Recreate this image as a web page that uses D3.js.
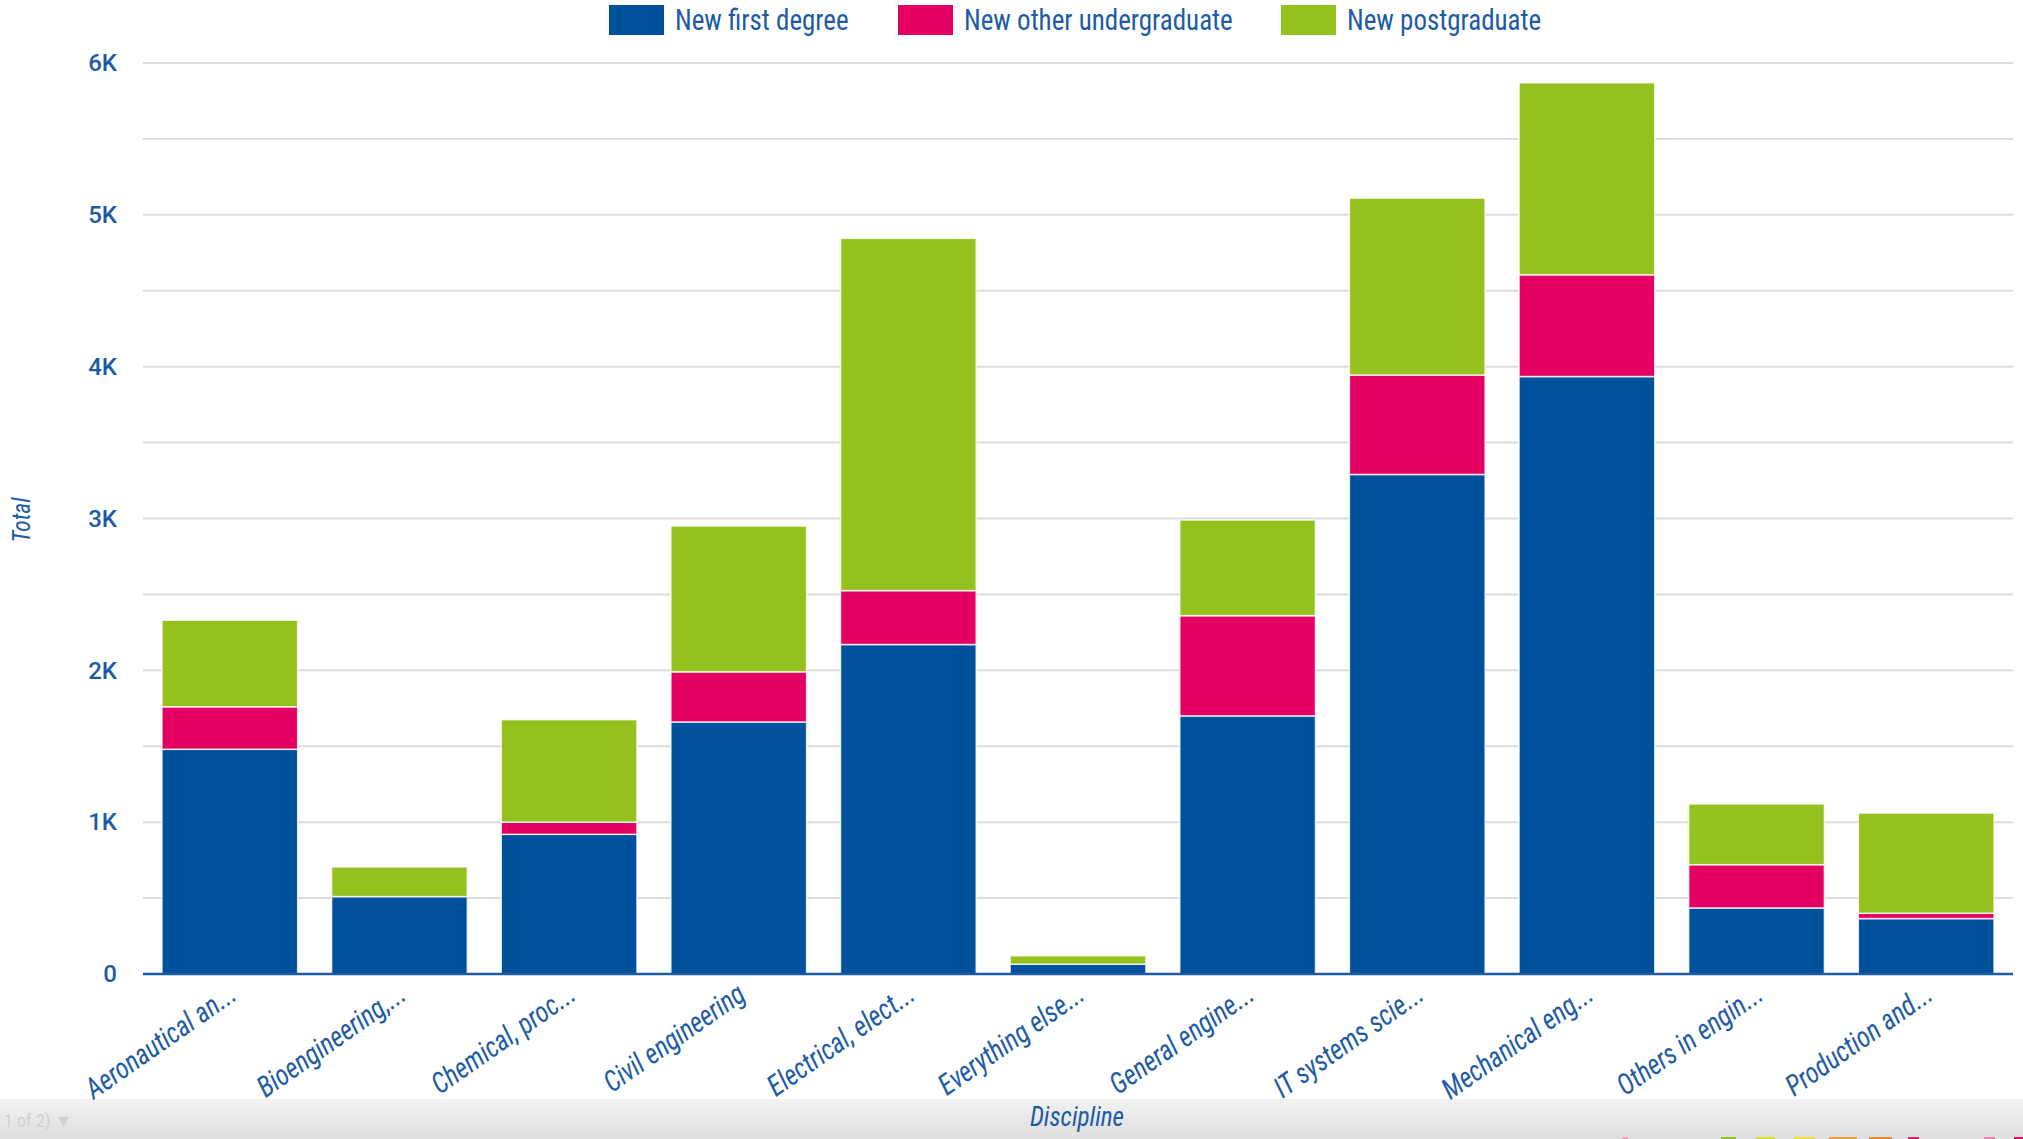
<!DOCTYPE html>
<html><head><meta charset="utf-8">
<script src="https://cdn.jsdelivr.net/npm/d3@7"></script>
<style>
html,body{margin:0;padding:0;background:#fff;}
svg{display:block;}
.cond{font-family:"Roboto Condensed","Liberation Sans Narrow","Arial Narrow",Roboto,sans-serif;}
</style></head>
<body>
<svg id="chart" width="2023" height="1139"></svg>
<script>
const categories = ["Aeronautical an...","Bioengineering,...","Chemical, proc...","Civil engineering","Electrical, elect...","Everything else...","General engine...","IT systems scie...","Mechanical eng...","Others in engin...","Production and..."];
const seriesNames = ["New first degree","New other undergraduate","New postgraduate"];
const newFirstDegree = [1480, 510, 920, 1660, 2170, 65, 1700, 3290, 3935, 435, 365];
const newOtherUndergraduate = [280, 0, 80, 330, 355, 0, 660, 655, 670, 285, 35];
const newPostgraduate = [570, 195, 675, 960, 2320, 55, 630, 1165, 1265, 400, 660];
const yTicks = [0, 1000, 2000, 3000, 4000, 5000, 6000];
const yTickLabels = ["0","1K","2K","3K","4K","5K","6K"];
const colors = ["#00519C","#E30062","#95C11F"];

const textColor = "#1D5BA6";
const svg = d3.select("#chart");
const W = 2023, H = 1139;
const m = {left:145, right:2011, top:63, bottom:974};

const data = categories.map((c,i)=>({cat:c, "New first degree":newFirstDegree[i], "New other undergraduate":newOtherUndergraduate[i], "New postgraduate":newPostgraduate[i]}));
const stack = d3.stack().keys(seriesNames)(data);

const x = d3.scaleBand().domain(categories).range([m.left, m.right]).paddingInner(0.2).paddingOuter(0.1);
const y = d3.scaleLinear().domain([0, 6000]).range([m.bottom, m.top]);

// bottom gray band
const defs = svg.append("defs");
const grad = defs.append("linearGradient").attr("id","band").attr("x1",0).attr("y1",0).attr("x2",0).attr("y2",1);
grad.append("stop").attr("offset","0%").attr("stop-color","#f2f2f2");
grad.append("stop").attr("offset","100%").attr("stop-color","#dedede");
svg.append("rect").attr("x",0).attr("y",1099).attr("width",W).attr("height",H-1099).attr("fill","url(#band)");
svg.append("text").attr("x",4).attr("y",1127).attr("class","cond").attr("font-size",18).attr("fill","#d0d0d0").text("1 of 2)  \u25BC");
// clipped decorative slivers at the very bottom edge
const sliverX = [[1622,1628,"#f0a0c0"],[1721,1736,"#95C11F"],[1756,1775,"#d8e030"],[1794,1815,"#f0e040"],[1829,1857,"#f0a040"],[1869,1892,"#e88a30"],[1908,1919,"#e0206a"],[1984,1995,"#f080b0"],[2014,2023,"#d0105a"]];
svg.append("g").selectAll("rect").data(sliverX).join("rect")
  .attr("x",d=>d[0]).attr("width",d=>d[1]-d[0]).attr("y",H-2).attr("height",2).attr("fill",d=>d[2]);

// gridlines (every 500)
const gridVals = d3.range(500, 6001, 500);
svg.append("g").selectAll("line").data(gridVals).join("line")
  .attr("x1", m.left-2).attr("x2", m.right+2)
  .attr("y1", d=>y(d)).attr("y2", d=>y(d))
  .attr("stroke","#dcdcdc").attr("stroke-width",2);

// y axis labels
const yAxis = d3.axisLeft(y).tickValues(yTicks).tickFormat((d,i)=>yTickLabels[i]).tickSize(0).tickPadding(26);
const ya = svg.append("g").attr("transform",`translate(${m.left-2},0)`).call(yAxis);
ya.select(".domain").remove();
ya.selectAll("text").attr("fill",textColor).attr("font-family","Roboto, sans-serif").attr("font-weight",500).attr("font-size",24);

// bars
svg.append("g").selectAll("g").data(stack).join("g")
  .attr("fill",(d,i)=>colors[i])
  .selectAll("rect").data(d=>d.filter(s=>s[1]-s[0]>0)).join("rect")
  .attr("x", d=>x(d.data.cat))
  .attr("width", x.bandwidth())
  .attr("y", d=>y(d[1]))
  .attr("height", d=>y(d[0])-y(d[1]))
  .attr("stroke","#ffffff").attr("stroke-opacity",0.8).attr("stroke-width",1.5);

// x axis
const xAxis = d3.axisBottom(x).tickSize(0).tickPadding(10);
const xa = svg.append("g").attr("transform",`translate(0,${m.bottom})`).call(xAxis);
xa.select(".domain").attr("stroke",textColor).attr("stroke-width",2.5).attr("d",`M${m.left-2},0H${m.right+2}`);
xa.selectAll("text")
  .attr("class","cond")
  .attr("fill",textColor).attr("font-size",29).attr("font-style","italic")
  .attr("text-anchor","end")
  .attr("dy","0.35em")
  .attr("transform","translate(-3,8) rotate(-35) scale(0.9,1)");

// axis titles
svg.append("text").attr("class","cond").attr("transform","translate(30,520) rotate(-90) scale(0.9,1)")
  .attr("text-anchor","middle").attr("fill",textColor).attr("font-style","italic").attr("font-size",26).text("Total");
svg.append("text").attr("class","cond").attr("transform","translate(1077,1126) scale(0.9,1)")
  .attr("text-anchor","middle").attr("fill",textColor).attr("font-style","italic").attr("font-size",28).text("Discipline");

// legend
const legendX = [609, 898, 1281];
const lg = svg.append("g").selectAll("g").data(seriesNames).join("g")
  .attr("transform",(d,i)=>`translate(${legendX[i]},5)`);
lg.append("rect").attr("width",55).attr("height",30).attr("fill",(d,i)=>colors[i]);
lg.append("text").attr("class","cond").attr("transform","translate(66,25) scale(0.9,1)").attr("fill",textColor).attr("font-size",30).text(d=>d);
</script>
</body></html>
